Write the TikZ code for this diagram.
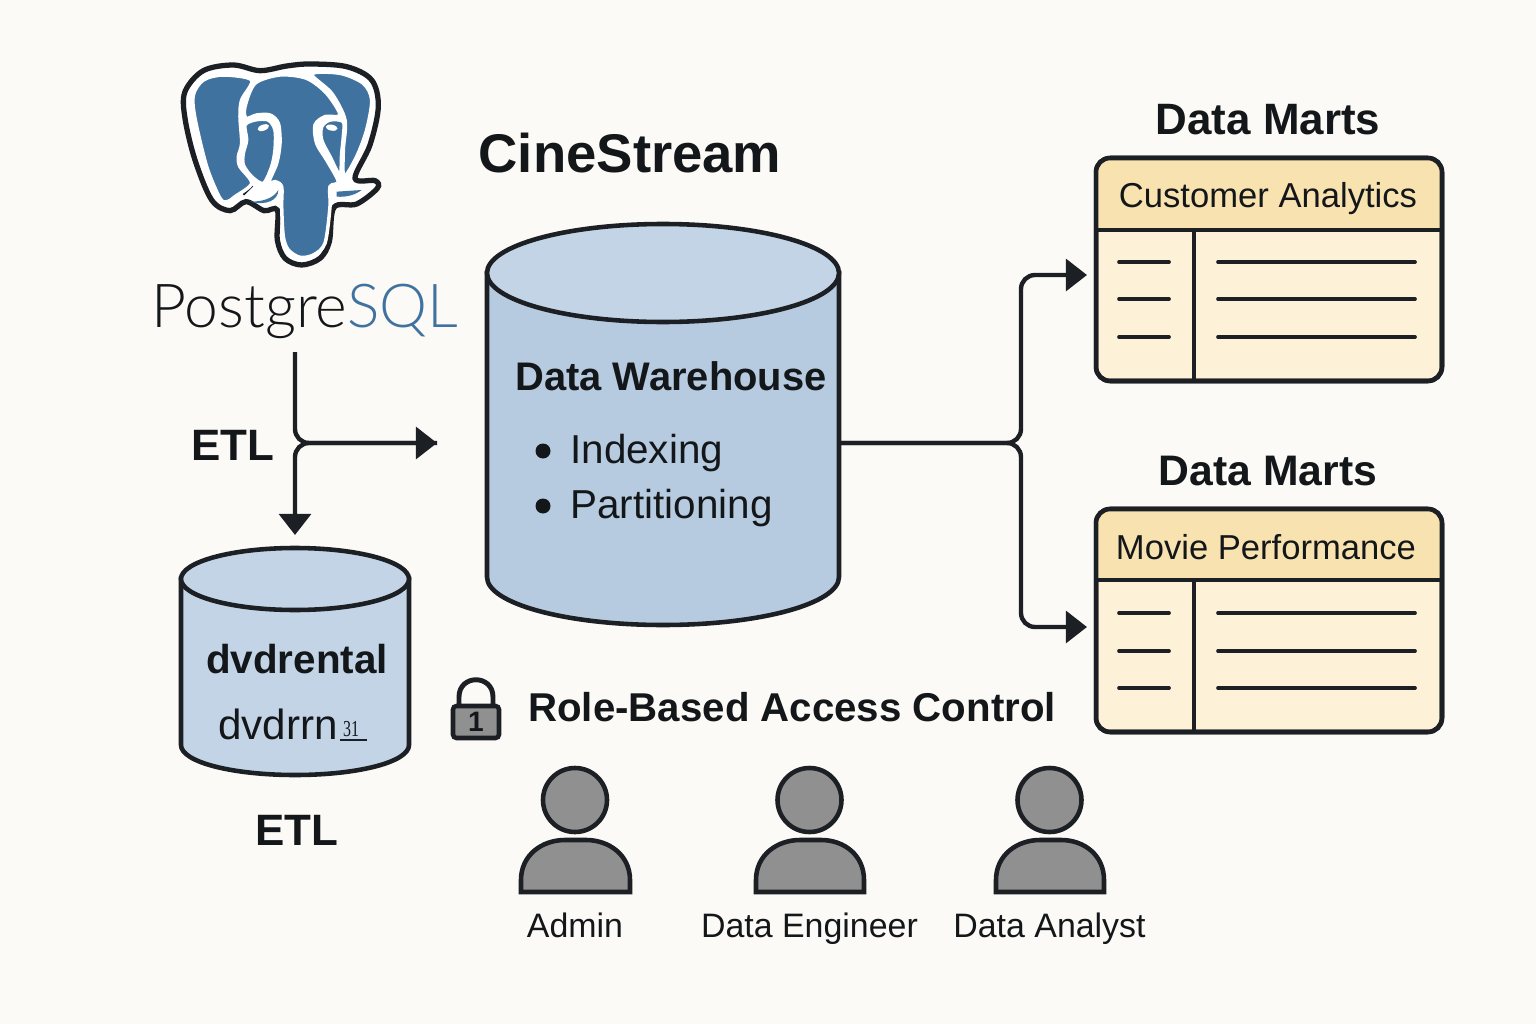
\documentclass[tikz,border=0pt]{standalone}
\usepackage{fontspec}
\setmainfont{Liberation Sans}
\newfontfamily\numfont[FakeStretch=0.7]{Liberation Serif}
\newfontfamily\logofont[UprightFont=* Light]{Lato}
\usetikzlibrary{positioning,arrows.meta}
\definecolor{pagebg}{HTML}{FCFAF6}
\definecolor{inkline}{HTML}{1C1F24}
\definecolor{inktext}{HTML}{14171A}
\definecolor{pgblue}{HTML}{3F729F}
\definecolor{cyltop}{HTML}{C3D4E6}
\definecolor{cylbody}{HTML}{B7CBE0}
\definecolor{marthead}{HTML}{F8E3B0}
\definecolor{martbody}{HTML}{FDF1D8}
\definecolor{usergray}{HTML}{909090}
\tikzset{
  store/.style={draw=inkline, line width=2.6pt},
  storebox/.style={inner sep=0pt, outer sep=0pt},
  flow/.style={draw=inkline, line width=2.5pt, rounded corners=8pt},
  tip/.style={-{Triangle[length=12pt,width=18pt]}},
  martbox/.style={draw=inkline, line width=2.6pt, fill=martbody, rounded corners=8pt,
    minimum width=6.92cm, minimum height=4.46cm, inner sep=0pt, outer sep=0pt},
  martline/.style={draw=inkline, line width=2.6pt},
  martrow/.style={draw=inkline, line width=2.1pt, line cap=round},
  head/.style={font=\fontsize{25}{28}\selectfont\bfseries, text=inktext, anchor=base, inner sep=0pt},
  rowtext/.style={font=\fontsize{19.7}{24}\selectfont, text=inktext, anchor=base, inner sep=0pt},
  usertext/.style={font=\fontsize{19.3}{24}\selectfont, text=inktext, anchor=base, inner sep=0pt},
  listtext/.style={font=\fontsize{23}{26}\selectfont, text=inktext, anchor=base west, inner sep=0pt},
  user/.style={draw=inkline, line width=2.6pt, fill=usergray},
  logoblue/.style={fill=pgblue, draw=white, line width=2pt}
}
\begin{document}
\begin{tikzpicture}[x=0.02cm,y=-0.02cm]
  \useasboundingbox (0,0) rectangle (1536,1024);
  \fill[pagebg] (0,0) rectangle (1536,1024);

  % PostgreSQL logo
  \begin{scope}[shift={(140,50)},scale=1/3]
    \fill[white,draw=inkline,line width=3pt] plot[smooth cycle,tension=.55] coordinates {
      (360,62) (280,45) (190,62) (135,125) (135,205) (165,330) (215,450) (270,482)
      (318,455) (372,482) (412,480) (412,570) (435,625) (485,645) (540,625) (568,575)
      (582,472) (650,462) (712,415) (705,392) (645,385) (690,285) (715,170) (695,90)
      (620,50) (510,42) (440,48)};
    \draw[inkline,line width=2.4pt] (335,405) -- (308,432);
    % ears
    \path[logoblue] plot[smooth cycle,tension=.5] coordinates {
      (335,90) (250,75) (190,90) (160,135) (165,205) (200,350) (240,445) (262,455)
      (285,440) (335,400) (300,350) (295,320) (305,280) (300,200) (305,150)};
    \path[logoblue] plot[smooth cycle,tension=.5] coordinates {
      (515,72) (600,70) (670,100) (695,150) (680,240) (650,320) (612,380) (610,300)
      (615,210) (575,130)};
    % head and trunk
    \path[logoblue] plot[smooth cycle,tension=.5] coordinates {
      (345,100) (420,75) (500,85) (560,130) (600,195) (555,200) (525,225) (530,280)
      (560,330) (595,395) (570,410) (570,470) (555,580) (520,615) (480,622) (445,600)
      (430,560) (425,470) (425,410) (405,395) (385,400) (410,340) (420,280) (415,220)
      (390,195) (350,195) (318,205) (315,170)};
    % eyes
    \path[logoblue] plot[smooth cycle,tension=.5] coordinates {
      (315,225) (345,210) (385,210) (405,240) (405,300) (395,350) (370,400) (335,380)
      (310,345) (310,310) (320,270)};
    \path[logoblue] plot[smooth cycle,tension=.5] coordinates {
      (610,215) (570,210) (545,230) (545,270) (570,320) (600,375) (605,310) (610,260)};
    \fill[white,rotate around={20:(370,233)}] (370,233) ellipse [x radius=18,y radius=9];
    \fill[white,rotate around={-10:(575,233)}] (575,233) ellipse [x radius=18,y radius=9];
    % tusks
    \fill[pgblue] (330,455) .. controls (370,455) and (400,445) .. (415,420) .. controls (415,450) and (380,468) .. (330,455) -- cycle;
    \fill[pgblue] (590,425) -- (665,420) .. controls (645,435) and (620,442) .. (590,440) -- cycle;
  \end{scope}
  \node[font=\logofont\fontsize{34.5}{40}\selectfont, text=inktext, anchor=base, inner sep=0pt] (pgname) at (305,327) {Postgre\textcolor{pgblue}{SQL}};

  \node[font=\fontsize{31}{36}\selectfont\bfseries, text=inktext, anchor=base, inner sep=0pt] (title) at (630,173) {CineStream};

  % Data Warehouse
  \node[storebox, minimum width=7.04cm, minimum height=8.04cm] (dw) at (663,424.5) {};
  \draw[store, fill=cylbody] (487,273) -- (487,577) .. controls (487,603.5) and (566,625) .. (663,625)
    .. controls (760,625) and (839,603.5) .. (839,577) -- (839,273) -- cycle;
  \draw[store, fill=cyltop] (663,273) ellipse [x radius=176, y radius=49];
  \node[head, font=\fontsize{22.7}{28}\selectfont\bfseries] (dwname) at (671,390) {Data Warehouse};
  \fill[inktext] (543,451) circle (7.5);
  \fill[inktext] (543,506) circle (7.5);
  \node[listtext] (idx) at (570,463) {Indexing};
  \node[listtext] (part) at (570,518) {Partitioning};

  % dvdrental
  \node[storebox, minimum width=4.56cm, minimum height=4.54cm] (dvd) at (295,661.5) {};
  \draw[store, fill=cyltop] (181,579) -- (181,745) .. controls (181,762) and (232,775) .. (295,775)
    .. controls (358,775) and (409,762) .. (409,745) -- (409,579) -- cycle;
  \draw[store, fill=cyltop] (295,579) ellipse [x radius=114, y radius=31];
  \node[head, font=\fontsize{23}{28}\selectfont\bfseries] (dvdname) at (297,673) {dvdrental};
  \node[font=\fontsize{24}{28}\selectfont, text=inktext, anchor=base west, inner sep=0pt] (dvdsub) at (218,739) {dvdrrn};
  \node[font=\numfont\fontsize{13}{14}\selectfont, text=inktext, anchor=base, inner sep=0pt] (dvdnum) at (351,736) {31};
  \draw[inkline,line width=0.9pt] (340,740) -- (367,740);
  \node[head] (etlb) at (297,845) {ETL};

  % ETL arrows
  \coordinate (pgout) at (295,352);
  \coordinate (dwin) at (437,443);
  \coordinate (dvdin) at (295,535);
  \node[head] (etla) at (233,460) {ETL};
  \draw[flow,tip] (pgout) |- (dwin);
  \draw[flow,tip] (dwin) -| (dvdin);

  % Data Marts
  \node[head] (mart1title) at (1268,134) {Data Marts};
  \node[martbox] (mart1) at (1269,269.5) {};
  \fill[marthead] (1096,230) [rounded corners=8pt] -- (1096,158) -- (1442,158) [sharp corners] -- (1442,230) -- cycle;
  \draw[martline,rounded corners=8pt] (mart1.north west) rectangle (mart1.south east);
  \draw[martline] (1096,230) -- (1442,230) (1194,230) -- (1194,381);
  \node[rowtext] (mart1name) at (1268,208) {Customer Analytics};
  \draw[martrow] (1119,262) -- (1169,262) (1218,262) -- (1415,262);
  \draw[martrow] (1119,299) -- (1169,299) (1218,299) -- (1415,299);
  \draw[martrow] (1119,337) -- (1169,337) (1218,337) -- (1415,337);

  \node[head, font=\fontsize{24.3}{28}\selectfont\bfseries] (mart2title) at (1268,485) {Data Marts};
  \node[martbox] (mart2) at (1269,620.5) {};
  \fill[marthead] (1096,580) [rounded corners=8pt] -- (1096,509) -- (1442,509) [sharp corners] -- (1442,580) -- cycle;
  \draw[martline,rounded corners=8pt] (mart2.north west) rectangle (mart2.south east);
  \draw[martline] (1096,580) -- (1442,580) (1194,580) -- (1194,732);
  \node[rowtext] (mart2name) at (1266,559) {Movie Performance};
  \draw[martrow] (1119,613) -- (1169,613) (1218,613) -- (1415,613);
  \draw[martrow] (1119,651) -- (1169,651) (1218,651) -- (1415,651);
  \draw[martrow] (1119,688) -- (1169,688) (1218,688) -- (1415,688);

  % warehouse to marts
  \coordinate (mart1in) at (1087,275);
  \coordinate (mart2in) at (1087,627);
  \draw[flow,tip] (dw.east |- dwin) -- (1021,443) |- (mart1in);
  \draw[flow,tip] (dw.east |- dwin) -- (1021,443) |- (mart2in);

  % Access control
  \draw[inkline,line width=2.8pt] (459,708) -- (459,697) .. controls (459,674) and (493,674) .. (493,697) -- (493,708);
  \node[draw=inkline, line width=2.6pt, fill=usergray, rounded corners=2pt, minimum width=0.92cm,
    minimum height=0.64cm, inner sep=0pt, font=\fontsize{16}{16}\selectfont\bfseries, text=inktext] (lock) at (476,722) {1};
  \node[head, anchor=base west, font=\fontsize{22.9}{28}\selectfont\bfseries] (rbac) at (528,721) {Role-Based Access Control};

  % Users
  \draw[user] (575,800) circle (32);
  \draw[user] (521,892) -- (521,880) .. controls (521,855) and (542,840) .. (565,840) -- (586,840) .. controls (609,840) and (630,855) .. (630,880) -- (630,892) -- cycle;
  \node[usertext] (admin) at (575,937) {Admin};
  \draw[user] (809.5,800) circle (32);
  \draw[user] (756,892) -- (756,880) .. controls (756,855) and (777,840) .. (800,840) -- (821,840) .. controls (844,840) and (864,855) .. (864,880) -- (864,892) -- cycle;
  \node[usertext] (engineer) at (809.5,937) {Data Engineer};
  \draw[user] (1049.5,800) circle (32);
  \draw[user] (996,892) -- (996,880) .. controls (996,855) and (1017,840) .. (1040,840) -- (1061,840) .. controls (1084,840) and (1104,855) .. (1104,880) -- (1104,892) -- cycle;
  \node[usertext] (analyst) at (1049.5,937) {Data Analyst};
\end{tikzpicture}
\end{document}
